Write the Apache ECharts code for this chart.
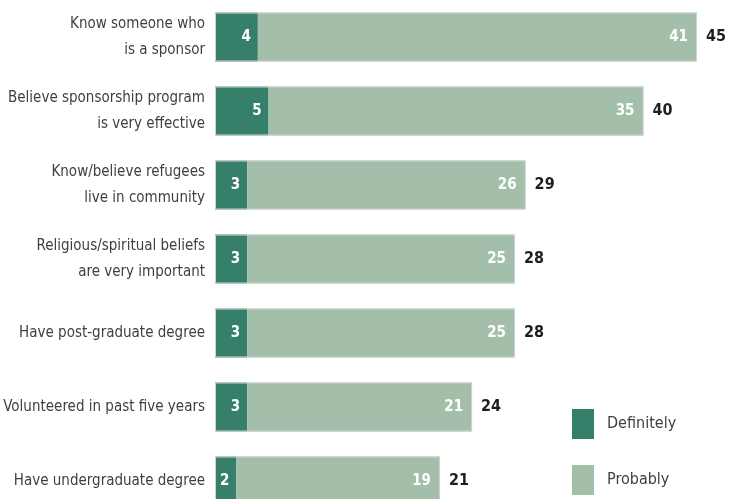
<!DOCTYPE html>
<html><head><meta charset="utf-8">
<script src="https://cdn.jsdelivr.net/npm/echarts@6/dist/echarts.min.js"></script>
<style>html,body{margin:0;padding:0;background:#fff}#c{width:730px;height:499px}</style>
</head><body><div id="c"></div>
<script>
var categories = ["Know someone who\nis a sponsor", "Believe sponsorship program\nis very effective", "Know/believe refugees\nlive in community", "Religious/spiritual beliefs\nare very important", "Have post-graduate degree", "Volunteered in past five years", "Have undergraduate degree"];
var definitely = [4, 5, 3, 3, 3, 3, 2];
var probably = [41, 35, 26, 25, 25, 21, 19];
var totals = [45, 40, 29, 28, 28, 24, 21];

var FONT = '"DejaVu Sans Condensed","Liberation Sans Narrow",sans-serif';
var chart = echarts.init(document.getElementById('c'));
chart.setOption({
  animation: false,
  textStyle: {fontFamily: FONT},
  grid: {left: 215, top: 0, width: 482, height: 518, containLabel: false, outerBoundsMode: 'none'},
  legend: {
    orient: 'vertical', left: 572, top: 409, padding: 0, itemWidth: 22, itemHeight: 30, itemGap: 26,
    data: ['Definitely', 'Probably'], icon: 'rect',
    textStyle: {fontFamily: FONT, fontSize: 16, color: '#3f3f3f', padding: [0, 0, 0, 8]}
  },
  xAxis: {type: 'value', min: 0, max: 45, show: false},
  yAxis: {
    type: 'category', data: categories, inverse: true,
    axisLine: {show: false}, axisTick: {show: false},
    axisLabel: {margin: 10, fontFamily: FONT, fontSize: 15, color: '#3f3f3f', lineHeight: 26, align: 'right'}
  },
  series: [
    {name: 'Definitely', type: 'bar', stack: 's', data: definitely, barWidth: 49,
     itemStyle: {color: '#36806b'},
     label: {show: true, position: 'insideRight', distance: 7, color: '#fff', fontWeight: 'bold', fontSize: 15, fontFamily: FONT}},
    {name: 'Probably', type: 'bar', stack: 's', data: probably, barWidth: 49,
     itemStyle: {color: '#a3bfaa'},
     label: {show: true, position: 'insideRight', distance: 9, color: '#fff', fontWeight: 'bold', fontSize: 15, fontFamily: FONT}},
    {name: 'Total', type: 'bar', data: totals, barWidth: 49, barGap: '-100%',
     itemStyle: {color: 'rgba(0,0,0,0)', borderColor: '#cfd3d0', borderWidth: 1},
     label: {show: true, position: 'right', distance: 9, color: '#1e1e1e', fontWeight: 'bold', fontSize: 16, fontFamily: FONT}}
  ]
});
</script></body></html>
